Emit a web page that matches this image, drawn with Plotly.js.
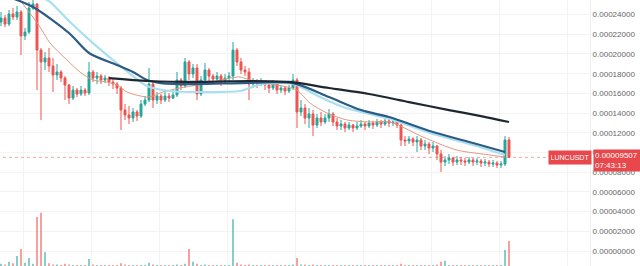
<!DOCTYPE html>
<html>
<head>
<meta charset="utf-8">
<script src="https://cdn.plot.ly/plotly-3.0.1.min.js"></script>
<style>html,body{margin:0;padding:0;background:#fff;}#chart{width:640px;height:266px;}</style>
</head>
<body>
<div id="chart"></div>
<script>
// Prices in micro-units (x 1e-6)
const UNIT = 1e-6;
const firstOpen = 232.5;
const closes = [
 236.5,230.4,240.6,237.5,242.6,218.3,222.3,246.7,250.7,204.0,
 191.9,195.9,187.8,178.7,181.7,175.6,168.5,155.3,163.4,159.4,
 163.4,160.4,181.7,175.6,177.6,173.6,175.6,171.6,169.5,165.5,
 143.1,138.1,135.0,141.1,137.0,149.2,153.3,169.5,153.3,157.3,
 153.3,157.3,155.3,158.4,173.6,167.5,191.9,179.7,185.8,159.4,
 173.6,183.7,177.6,174.6,177.6,173.6,175.6,177.6,204.0,191.9,
 183.7,181.7,169.5,171.6,169.5,171.6,168.5,165.5,169.5,163.4,
 165.5,162.4,165.5,173.6,141.1,145.2,135.0,139.1,127.9,135.0,
 131.0,135.0,139.1,131.0,126.9,128.9,124.9,127.9,124.9,126.9,
 128.9,126.9,129.9,127.9,131.0,128.9,132.0,129.9,131.0,127.9,
 112.7,111.7,113.7,110.6,112.7,106.6,108.6,104.5,106.6,98.5,
 90.3,92.4,94.4,90.3,92.4,91.4,90.3,92.4,90.3,91.4,
 89.3,90.3,88.3,89.3,87.3,88.3,112.7,95.07
];
const highs = [
 242.6,239.6,244.6,246.7,248.7,244.6,226.4,252.8,254.8,251.8,
 206.1,202.0,206.1,195.9,189.8,183.7,177.6,169.5,167.5,165.5,
 167.5,165.5,191.9,183.7,181.7,179.7,178.7,177.6,174.6,171.6,
 167.5,149.2,147.2,145.2,143.1,153.3,157.3,185.8,171.6,161.4,
 159.4,161.4,160.4,163.4,181.7,175.6,195.9,193.9,189.8,189.8,
 177.6,190.8,185.8,179.7,181.7,179.7,179.7,181.7,212.2,206.1,
 195.9,187.8,185.8,175.6,174.6,175.6,173.6,171.6,173.6,171.6,
 168.5,167.5,168.5,179.7,175.6,153.3,149.2,145.2,143.1,139.1,
 141.1,139.1,144.1,141.1,135.0,133.0,131.0,131.0,128.9,131.0,
 133.0,131.0,133.0,132.0,134.0,133.0,135.0,134.0,135.0,133.0,
 128.9,116.7,116.7,115.7,116.7,114.7,112.7,110.6,110.6,107.6,
 102.5,96.4,98.5,95.4,96.4,95.4,94.4,95.4,94.4,94.4,
 93.4,93.4,92.4,92.4,91.4,91.4,116.7,115.7
];
const lows = [
 228.4,227.4,228.4,234.5,234.5,199.0,214.2,220.3,244.6,163.4,
 133.0,183.7,181.7,161.4,173.6,171.6,153.3,149.2,153.3,156.3,
 157.3,157.3,158.4,171.6,169.5,169.5,170.5,167.5,164.4,159.4,
 122.8,133.0,128.9,131.0,132.0,135.0,147.2,151.2,145.2,149.2,
 149.2,151.2,151.2,154.3,156.3,163.4,165.5,173.6,175.6,153.3,
 157.3,169.5,171.6,169.5,171.6,167.5,169.5,171.6,173.6,187.8,
 179.7,177.6,153.3,165.5,165.5,167.5,163.4,160.4,163.4,159.4,
 160.4,158.4,160.4,163.4,124.9,137.0,128.9,124.9,116.7,124.9,
 126.9,128.9,131.0,126.9,122.8,122.8,120.8,122.8,120.8,122.8,
 124.9,122.8,124.9,123.8,125.9,124.9,126.9,125.9,126.9,124.9,
 106.6,106.6,108.6,106.6,100.5,102.5,102.5,98.5,100.5,92.4,
 80.2,86.3,88.3,86.3,87.3,87.3,86.3,88.3,86.3,87.3,
 85.3,86.3,85.3,85.3,84.2,84.2,86.3,94.4
];
const volumes = [
 4,3,8,5,19,32,6,15,4,92,
 100,26,5,3,3,2,4,3,2,2,
 2,2,13,3,2,2,2,2,2,2,
 5,3,2,2,2,2,2,6,3,2,
 2,2,2,2,3,2,4,32,8,4,
 2,3,2,2,2,2,2,2,88,6,
 3,2,3,2,2,2,2,2,2,2,
 2,2,2,3,15,3,3,2,3,2,
 2,2,2,2,2,2,2,2,2,2,
 2,2,2,2,2,2,2,2,2,2,
 4,2,2,2,2,2,2,2,2,3,
 8,10,2,2,2,2,2,2,2,2,
 2,2,2,2,2,2,30,47
];
// Moving averages (candle index, micro-price)
const maBlackX = [27,37,50,62,72,82,92,102,112,120,127];
const maBlackY = [175.6,172.6,171.6,172.6,171.6,165.5,159.4,151.2,143.1,137.0,131.0];
const maBlueX = [2,8,17,22,29,33,36.5,40,49,60,73,82,90,97,108,118,126];
const maBlueY = [257.8,247.7,221.3,201.0,188.8,181.7,173.6,170.5,169.5,170.5,170.5,156.3,143.1,136.0,120.8,109.6,100.5];
const maCyanX = [9.75,12.25,17.25,23,28,33,36.5,42.25,49.75,59.75,65.25,73,79.75,85.5,92.25,97.25,108,118,126];
const maCyanY = [258.9,252.8,232.5,211.1,193.9,177.6,167.5,162.4,161.4,162.4,169.5,169.5,156.3,146.2,139.1,134.0,118.8,107.6,97.4];
const maOrangeX = [4.75,9.75,12.25,16.5,19.75,23,26.5,29,31.5,37,40.5,44.75,49,53,57.25,59.75,62.25,64.75,71.5,74,77.25,81.5,86.5,92.25,97.25,105.5,114,122.25,126];
const maOrangeY = [254.8,227.4,211.2,193.9,181.7,173.6,171.6,168.5,161.4,156.3,161.4,165.5,168.5,171.6,175.6,176.6,173.6,171.6,166.5,163.4,150.2,140.1,133.0,131.0,131.0,115.7,102.5,97.5,95.4];
const yTicks = [0,20,40,60,80,100,120,140,160,180,200,220,240];
const symbol = "LUNCUSDT";
const lastPriceText = "0.00009507";
const countdown = "07:43:13";

const n = closes.length;
const idx = [], opens = [];
for (let i = 0; i < n; i++) { idx.push(i); opens.push(i === 0 ? firstOpen : closes[i-1]); }
const sc = a => a.map(v => v * UNIT);
const GREEN = '#26a69a', RED = '#ef5350';
const volColors = idx.map(i => closes[i] >= opens[i] ? 'rgba(38,166,154,0.55)' : 'rgba(239,83,80,0.55)');
const lastPrice = closes[n-1] * UNIT;

const traces = [
  {type:'bar', x: idx, y: volumes, yaxis:'y2', marker:{color: volColors, line:{width:0}}, width:0.5, hoverinfo:'skip'},
  {type:'scatter', mode:'lines', x:[-1, 160], y:[lastPrice, lastPrice], line:{color:'rgba(239,83,80,0.55)', width:1, dash:'dot'}, hoverinfo:'skip'},
  {type:'candlestick', x: idx, open: sc(opens), high: sc(highs), low: sc(lows), close: sc(closes),
   increasing:{line:{color:GREEN, width:1}, fillcolor:GREEN},
   decreasing:{line:{color:RED, width:1}, fillcolor:RED}, whiskerwidth:0, hoverinfo:'skip'},
  {type:'scatter', mode:'lines', x: maOrangeX, y: sc(maOrangeY), line:{color:'#df9a80', width:1, shape:'spline', smoothing:0.8}},
  {type:'scatter', mode:'lines', x: maCyanX, y: sc(maCyanY), line:{color:'#a9dff0', width:2.2, shape:'spline', smoothing:0.8}},
  {type:'scatter', mode:'lines', x: maBlueX, y: sc(maBlueY), line:{color:'#2c5b85', width:2.2, shape:'spline', smoothing:0.8}},
  {type:'scatter', mode:'lines', x: maBlackX, y: sc(maBlackY), line:{color:'#1f2733', width:2.2, shape:'spline', smoothing:0.8}}
];

const W = 590;
const layout = {
  width: 640, height: 266,
  margin: {l:0, r:50, t:0, b:0, pad:0},
  paper_bgcolor:'#ffffff', plot_bgcolor:'#ffffff',
  showlegend:false,
  xaxis:{range:[-0.25, 147.25], showticklabels:false, ticks:'', tick0:5.5, dtick:17, showgrid:true, gridcolor:'#f3f3f3', gridwidth:1, zeroline:false, rangeslider:{visible:false}, fixedrange:true},
  yaxis:{side:'right', range:[-15.2*UNIT, 254.8*UNIT], tickvals: sc(yTicks), tickformat:'.8f', ticks:'', showgrid:true, gridcolor:'#f3f3f3', zeroline:false, showline:true, linecolor:'#eeeeee', linewidth:1,
         tickfont:{family:'Liberation Sans, Arial, sans-serif', size:8, color:'#666'}, automargin:false},
  yaxis2:{overlaying:'y', range:[0,500], visible:false, fixedrange:true},
  annotations:[
    {xref:'paper', yref:'y', x: 592/W, y: lastPrice, xanchor:'right', yanchor:'middle', text: symbol, showarrow:false,
     bgcolor:'#e8474b', font:{family:'Liberation Sans, Arial, sans-serif', size:7, color:'#ffffff'}, borderpad:2, width:38, height:9},
    {xref:'paper', yref:'y', x: 593/W, y: lastPrice - 2.9*UNIT, xanchor:'left', yanchor:'middle', text: lastPriceText + '<br>' + countdown, align:'left', showarrow:false,
     bgcolor:'#e8474b', font:{family:'Liberation Sans, Arial, sans-serif', size:8, color:'#ffffff'}, borderpad:1, width:45, height:19}
  ]
};
Plotly.newPlot('chart', traces, layout, {staticPlot:true, displayModeBar:false});
</script>
</body>
</html>
